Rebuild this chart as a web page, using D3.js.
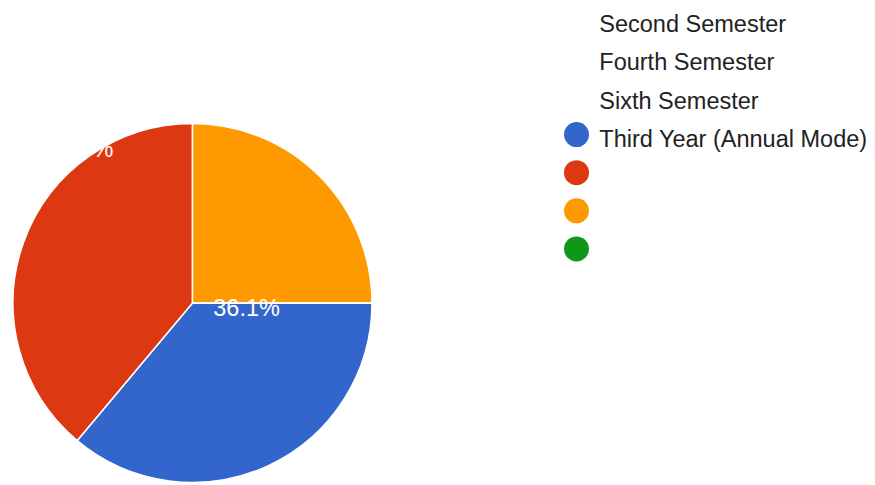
<!DOCTYPE html>
<html><head><meta charset="utf-8">
<script src="https://cdn.jsdelivr.net/npm/d3@7"></script>
<style>html,body{margin:0;padding:0;background:#fff;}svg{display:block;}</style>
</head><body>
<svg id="chart" width="875" height="485"></svg>
<script>
const categories = ["Third Year (Annual Mode)", "Red", "Orange", "Green"];
const values = [36.1, 38.9, 25.0, 0];
const sliceColors = ["#3366cc", "#dc3912", "#ff9900", "#109618"];
const sliceLabels = ["36.1%", "38.9%", "", ""];
const legendLabels = ["Second Semester", "Fourth Semester", "Sixth Semester", "Third Year (Annual Mode)", "", "", ""];
const legendColors = [null, null, null, "#3366cc", "#dc3912", "#ff9900", "#109618"];

const svg = d3.select("#chart");
const font = '"Liberation Sans", Arial, sans-serif';
const cx = 192.5, cy = 303, r = 179.5;

const pie = d3.pie().sort(null).value(d => d)
  .startAngle(Math.PI / 2).endAngle(Math.PI / 2 + 2 * Math.PI);
const arc = d3.arc().innerRadius(0).outerRadius(r);
const g = svg.append("g").attr("transform", `translate(${cx},${cy})`);
g.selectAll("path").data(pie(values)).join("path")
  .attr("d", arc)
  .attr("fill", (d, i) => sliceColors[i])
  .attr("stroke", "#fff").attr("stroke-width", 1.5);

// slice labels (white, as in reference)
const labelPos = [[213.3, 315.7, "start"], [113.3, 157, "end"]];
labelPos.forEach((p, i) => {
  svg.append("text").attr("x", p[0]).attr("y", p[1])
    .attr("text-anchor", p[2]).attr("fill", "#fff")
    .style("font-family", font).style("font-size", "23.5px")
    .text(sliceLabels[i]);
});

// legend
const ly = d3.scaleLinear().domain([0, 1]).range([20.8, 58.9]);
const leg = svg.append("g");
legendLabels.forEach((t, i) => {
  const y = ly(i);
  if (legendColors[i]) {
    leg.append("circle").attr("cx", 576.5).attr("cy", y - 0.5).attr("r", 12.5).attr("fill", legendColors[i]);
  }
  if (t) {
    leg.append("text").attr("x", 599.3).attr("y", y + 11.5)
      .attr("fill", "#222").style("font-family", font).style("font-size", "23.5px")
      .text(t);
  }
});
</script>
</body></html>
